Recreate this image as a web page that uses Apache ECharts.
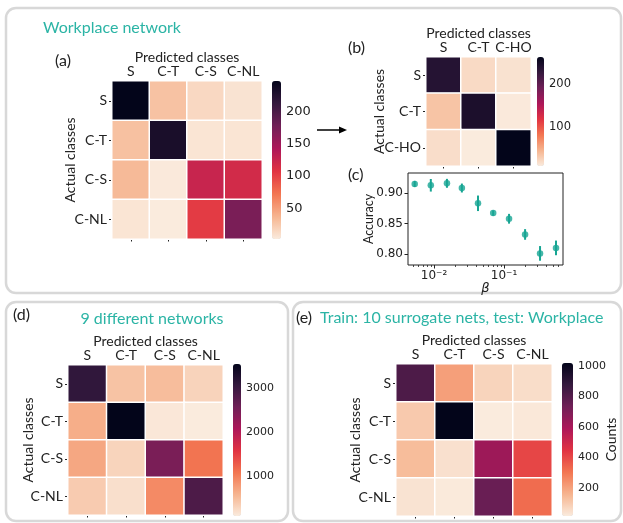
<!DOCTYPE html>
<html>
<head>
<meta charset="utf-8">
<script src="https://cdn.jsdelivr.net/npm/echarts@6.0.0/dist/echarts.min.js"></script>
<style>
html, body { margin: 0; padding: 0; background: #fff; }
#chart { width: 623px; height: 523px; }
</style>
</head>
<body>
<div id="chart"></div>
<script>
// class names
const classes4 = ['S', 'C-T', 'C-S', 'C-NL']
const classes3 = ['S', 'C-T', 'C-HO']

// (a) workplace network, rows = actual, cols = predicted
const workplaceCounts = [
  [248, 28, 14, 7],
  [29, 232, 6, 6],
  [33, 3, 125, 118],
  [6, 2, 103, 172]
]
const workplaceTicks = [50, 100, 150, 200]

// (b) workplace, 3 classes
const workplaceHoCounts = [
  [238, 20, 15],
  [35, 245, 10],
  [18, 9, 263]
]
const workplaceHoTicks = [100, 200]

// (c) accuracy vs beta
const betaValues = [0.0053, 0.009, 0.0153, 0.025, 0.0425, 0.07, 0.118, 0.2, 0.327, 0.553]
const accuracyMean = [0.9147, 0.9125, 0.9157, 0.908, 0.883, 0.867, 0.8577, 0.832, 0.801, 0.810]
const accuracyErr = [0.005, 0.0103, 0.0073, 0.0073, 0.0127, 0.0044, 0.008, 0.0087, 0.012, 0.012]
const accuracyTicks = [0.80, 0.85, 0.90]
const betaTicks = [0.01, 0.1]
const betaMinorTicks = [0.005, 0.006, 0.007, 0.008, 0.009,
  0.02, 0.03, 0.04, 0.05, 0.06, 0.07, 0.08, 0.09,
  0.2, 0.3, 0.4, 0.5, 0.6]

// (d) 9 different networks
const nineNetCounts = [
  [3096, 450, 505, 306],
  [633, 3545, 125, 91],
  [689, 300, 2474, 1093],
  [378, 198, 920, 2854]
]
const nineNetTicks = [1000, 2000, 3000]

// (e) train on surrogates, test on workplace
const surrogateCounts = [
  [819, 207, 76, 52],
  [104, 1020, 16, 24],
  [137, 44, 628, 405],
  [36, 19, 749, 325]
]
const surrogateTicks = [200, 400, 600, 800, 1000]

// seaborn rocket_r
const rocketR = ['#faebdd', '#f6b48f', '#f37651', '#e13342', '#ad1759', '#701f57', '#35193e', '#03051a']

const ink = '#222'
const teal = '#2bb4a5'
const dotTeal = '#17a593'
const boxGray = '#d8d8d8'
const tickFont = 'DejaVu Sans'
const labelFont = 'Lato'

const grids = []
const xAxes = []
const yAxes = []
const series = []
const visualMaps = []

function addHeatmap(p) {
  const vals = p.counts.flat()
  const lo = Math.min(...vals)
  const hi = Math.max(...vals)

  const g = grids.length
  grids.push(p.grid)
  const xi = xAxes.length
  xAxes.push({
    gridIndex: g, type: 'category', position: 'top', data: p.cats,
    axisLine: { show: false }, axisTick: { show: false },
    axisLabel: { interval: 0, margin: 3, fontSize: 14, fontFamily: labelFont, color: ink },
    name: 'Predicted classes', nameLocation: 'middle', nameGap: 17, nameMoveOverlap: false,
    nameTextStyle: { fontSize: 14, fontFamily: labelFont, color: ink }
  })
  xAxes.push({
    gridIndex: g, type: 'category', position: 'bottom', data: p.cats,
    axisLine: { show: false }, axisLabel: { show: false },
    axisTick: { show: true, interval: 0, alignWithLabel: true, length: 2.5, lineStyle: { color: ink } }
  })
  const yi = yAxes.length
  yAxes.push({
    gridIndex: g, type: 'category', inverse: true, data: p.cats,
    axisLine: { show: false },
    axisTick: { show: true, interval: 0, alignWithLabel: true, length: 3, lineStyle: { color: ink } },
    axisLabel: { interval: 0, margin: 5, fontSize: 14, fontFamily: labelFont, color: ink },
    name: 'Actual classes', nameLocation: 'middle', nameGap: p.yNameGap, nameRotate: 90,
    nameMoveOverlap: false,
    nameTextStyle: { fontSize: 14, fontFamily: labelFont, color: ink }
  })
  const cells = []
  p.counts.forEach((row, i) => row.forEach((v, j) => cells.push([j, i, v])))
  const si = series.length
  series.push({
    type: 'heatmap', xAxisIndex: xi, yAxisIndex: yi, data: cells,
    itemStyle: { borderColor: '#fff', borderWidth: 1.5 },
    emphasis: { disabled: true }
  })
  visualMaps.push({
    type: 'continuous', seriesIndex: si, min: lo, max: hi,
    orient: 'vertical', left: p.bar.left, top: p.bar.top,
    itemWidth: p.bar.width, itemHeight: p.bar.height,
    padding: 0, calculable: false, hoverLink: false,
    inRange: { color: rocketR }
  })

  // colorbar ticks
  const cg = grids.length
  grids.push(p.bar)
  xAxes.push({ gridIndex: cg, type: 'value', show: false })
  yAxes.push({
    gridIndex: cg, type: 'value', position: 'right', min: lo, max: hi,
    axisLine: { show: false }, splitLine: { show: false },
    axisTick: { show: true, length: 3.5, customValues: p.ticks, lineStyle: { color: ink } },
    axisLabel: {
      margin: 5, customValues: p.ticks, fontSize: p.cbFont, fontFamily: tickFont, color: ink,
      formatter: v => String(v)
    },
    name: p.cbName || '', nameLocation: 'middle', nameGap: 31, nameRotate: 90,
    nameMoveOverlap: false,
    nameTextStyle: { fontSize: 14, fontFamily: labelFont, color: ink }
  })
}

addHeatmap({
  counts: workplaceCounts, cats: classes4, ticks: workplaceTicks, cbFont: 13, yNameGap: 35,
  grid: { left: 112, top: 81, width: 150, height: 158 },
  bar: { left: 272, top: 81, width: 9, height: 158 }
})
addHeatmap({
  counts: workplaceHoCounts, cats: classes3, ticks: workplaceHoTicks, cbFont: 11.5, yNameGap: 40,
  grid: { left: 426, top: 57, width: 105, height: 109 },
  bar: { left: 537, top: 57, width: 7, height: 109 }
})
addHeatmap({
  counts: nineNetCounts, cats: classes4, ticks: nineNetTicks, cbFont: 11, yNameGap: 33,
  grid: { left: 68, top: 365, width: 155, height: 150 },
  bar: { left: 233, top: 364, width: 8, height: 152 }
})
addHeatmap({
  counts: surrogateCounts, cats: classes4, ticks: surrogateTicks, cbFont: 11, yNameGap: 34,
  cbName: 'Counts',
  grid: { left: 396, top: 364, width: 156, height: 152 },
  bar: { left: 562, top: 363, width: 11, height: 153 }
})

// (c) accuracy panel
function sup(e) {
  const m = { '-': '\u207b', '0': '\u2070', '1': '\u00b9', '2': '\u00b2', '3': '\u00b3' }
  return String(e).split('').map(c => m[c]).join('')
}
const cg = grids.length
grids.push({ left: 408, top: 173, width: 155, height: 92, show: true, borderColor: ink, borderWidth: 1 })
const cx = xAxes.length
xAxes.push({
  gridIndex: cg, type: 'log', logBase: 10, min: 0.00425, max: 0.696, position: 'bottom',
  axisLine: { show: false }, splitLine: { show: false },
  axisTick: { show: true, length: 3.5, customValues: betaTicks, lineStyle: { color: ink } },
  axisLabel: {
    margin: 5, customValues: betaTicks, fontSize: 12, fontFamily: tickFont, color: ink,
    formatter: v => '10' + sup(Math.round(Math.log10(v)))
  },
  name: '\u03b2', nameLocation: 'middle', nameGap: 17, nameMoveOverlap: false,
  nameTextStyle: { fontSize: 13, fontStyle: 'italic', fontFamily: tickFont, color: ink }
})
xAxes.push({
  gridIndex: cg, type: 'log', logBase: 10, min: 0.00425, max: 0.696, position: 'bottom',
  axisLine: { show: false }, splitLine: { show: false }, axisLabel: { show: false },
  axisTick: { show: true, length: 2, customValues: betaMinorTicks, lineStyle: { color: ink, width: 0.8 } }
})
const cy = yAxes.length
yAxes.push({
  gridIndex: cg, type: 'value', min: 0.782, max: 0.9326,
  axisLine: { show: false }, splitLine: { show: false },
  axisTick: { show: true, length: 3.5, customValues: accuracyTicks, lineStyle: { color: ink } },
  axisLabel: {
    margin: 5, customValues: accuracyTicks, fontSize: 12, fontFamily: tickFont, color: ink,
    formatter: v => v.toFixed(2)
  },
  name: 'Accuracy', nameLocation: 'middle', nameGap: 33, nameRotate: 90, nameMoveOverlap: false,
  nameTextStyle: { fontSize: 12.5, fontFamily: labelFont, color: ink }
})
series.push({
  type: 'custom', xAxisIndex: cx, yAxisIndex: cy,
  data: betaValues.map((b, i) => [b, accuracyMean[i] - accuracyErr[i], accuracyMean[i] + accuracyErr[i]]),
  encode: { x: 0, y: [1, 2] },
  renderItem: function(params, api) {
    const a = api.coord([api.value(0), api.value(1)])
    const b = api.coord([api.value(0), api.value(2)])
    return {
      type: 'line',
      shape: { x1: a[0], y1: a[1], x2: b[0], y2: b[1] },
      style: { stroke: dotTeal, lineWidth: 2 }
    }
  }
})
series.push({
  type: 'scatter', xAxisIndex: cx, yAxisIndex: cy,
  data: betaValues.map((b, i) => [b, accuracyMean[i]]),
  symbol: 'circle', symbolSize: 6.5,
  itemStyle: { color: dotTeal },
  emphasis: { disabled: true }
})

function label(text, x, y, size, color, align) {
  return {
    type: 'text', x: x, y: y, z: 10,
    style: { text: text, fontSize: size, fontFamily: labelFont, fill: color, align: align || 'left', verticalAlign: 'middle' }
  }
}
const boxStyle = { fill: 'none', stroke: boxGray, lineWidth: 2.5 }

const chart = echarts.init(document.getElementById('chart'))
chart.setOption({
  animation: false,
  grid: grids,
  xAxis: xAxes,
  yAxis: yAxes,
  visualMap: visualMaps,
  series: series,
  graphic: [
    { type: 'rect', shape: { x: 6, y: 8, width: 615, height: 285, r: 10 }, style: boxStyle },
    { type: 'rect', shape: { x: 6, y: 302, width: 282, height: 219, r: 10 }, style: boxStyle },
    { type: 'rect', shape: { x: 293, y: 302, width: 328, height: 219, r: 10 }, style: boxStyle },
    { type: 'line', shape: { x1: 317, y1: 130, x2: 341, y2: 130 }, style: { stroke: '#000', lineWidth: 1.5 } },
    { type: 'polygon', shape: { points: [[339, 126.5], [347, 130], [339, 133.5]] }, style: { fill: '#000' } },
    label('Workplace network', 43, 28, 16, teal),
    label('(a)', 55, 61, 16, ink),
    label('(b)', 348, 48, 16, ink),
    label('(c)', 348, 175, 16, ink),
    label('(d)', 13, 315, 16, ink),
    label('9 different networks', 152, 319, 16, teal, 'center'),
    label('(e)', 296, 318, 16, ink),
    label('Train: 10 surrogate nets, test: Workplace', 320, 318, 16, teal)
  ]
})
</script>
</body>
</html>
